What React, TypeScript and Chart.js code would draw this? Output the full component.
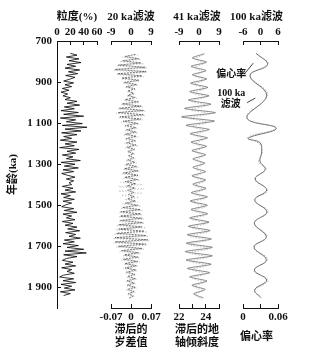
import React, { useEffect, useRef } from "react";
import { Chart, registerables } from "chart.js";
Chart.register(...registerables);

const W = 316;
const H = 356;
const SERIF = "'Liberation Serif', 'Noto Sans CJK SC', serif";
const INK = "#111";

// ---------- shared age axis ----------
const ageMin = 700;
const ageMax = 2000;
const yTicks = [700, 900, 1100, 1300, 1500, 1700, 1900];
const yTickLabels = ["700", "900", "1 100", "1 300", "1 500", "1 700", "1 900"];

// ---------- panel 1: grain size (%) ----------
const grainTicks = [0, 20, 40, 60];
const grainTickLabels = ["0", "20", "40", "60"];
const grainStart = 760;
const grainStep = 9;
const grainValues = [
  20, 30, 14, 33, 18, 36, 15, 28, 12, 34, 17, 31, 13, 27, 19,
  10, 25, 12, 22,
  8, 18, 6, 16, 9, 20,
  12, 30, 15, 34, 11, 26,
  6, 32, 10, 40, 5, 28, 14, 38, 8, 45,
  12, 36, 7, 30, 10,
  22, 5, 30, 12, 26, 4, 33, 15, 28, 8, 24, 14, 35, 6, 27, 11, 32, 9, 25, 7,
  16, 27, 14, 25, 18, 22,
  8, 24, 12, 28, 6, 20, 10, 26, 9, 22, 13,
  7, 25, 11, 30, 9, 22, 14, 27, 8, 24,
  12, 30, 16, 34, 13, 28, 18, 35, 11, 26,
  9, 32, 15, 40, 12, 44, 10, 30, 14,
  8, 24, 12, 28, 7, 22, 15, 26, 10,
  4, 25, 9, 28, 6, 22, 11, 27, 5, 20, 10,
];

// ---------- panel 2: 20 ka filter / lagged precession ----------
const f20Ticks = [-9, 0, 9];
const f20TickLabels = ["-9", "0", "9"];
const precTicks = [-0.07, 0, 0.07];
const precTickLabels = ["-0.07", "0", "0.07"];
const f20Start = 765;
const f20Step = 10.5;
const f20Values = [
  2.0, -2.8, 3.4, -3.8, 4.5,
  -5.8, 6.5, -7.2, 6.8, -6.0, 5.0,
  -4.2, 3.6, -3.0, 2.5, -2.2,
  1.8, -1.5, 1.2, -1.4, 1.9, -2.6, 3.3,
  -4.0, 4.6, -5.2, 5.6, -5.8, 5.5, -5.0, 4.4, -3.6, 3.0, -2.6,
  2.3, -2.0, 2.2, -2.5, 2.4, -2.1, 1.9, -2.0, 2.2, -1.9, 1.6,
  -1.4, 1.2, -1.0, 1.3, -1.5, 1.8, -2.2, 2.6,
  -3.0, 3.2, -3.4, 3.1, -2.8, 3.0, -2.6, 2.2, -1.9, 1.7,
  -1.5, 1.3, -1.2, 1.4, -1.6, 2.0, -2.6, 3.2,
  -3.8, 4.2, -4.6, 4.4, -4.8, 5.0, -4.7, 5.2, -5.5,
  5.0, -5.5, 6.0, -6.4, 6.8, -7.2, 7.5, -7.2, 6.6, -5.8, 5.0, -4.2,
  3.4, -3.0, 3.2, -3.5, 3.0, -2.7, 2.4, -2.6, 2.3, -2.0,
  1.8, -1.6, 2.0, -1.8, 1.5, -1.7, 1.9, -1.6, 1.4, -1.2, 1.0, -0.8,
];
const precStart = 769;
const precStep = 10.5;
const precValues = [
  0.025, -0.03, 0.035, -0.04, 0.045,
  -0.05, 0.055, -0.06, 0.055, -0.05, 0.045,
  -0.035, 0.03, -0.028, 0.025, -0.02,
  0.018, -0.015, 0.014, -0.016, 0.02, -0.025, 0.03,
  -0.035, 0.04, -0.045, 0.05, -0.052, 0.05, -0.045, 0.04, -0.035, 0.03, -0.025,
  0.022, -0.02, 0.025, -0.028, 0.026, -0.022, 0.02, -0.024, 0.026, -0.02, 0.016,
  -0.014, 0.012, -0.012, 0.015, -0.018, 0.02, -0.024, 0.028,
  -0.028, 0.03, -0.032, 0.03, -0.028, 0.032, -0.036, 0.04, -0.044, 0.046,
  -0.044, 0.04, -0.034, 0.028, -0.022, 0.025, -0.03, 0.035,
  -0.038, 0.04, -0.042, 0.04, -0.044, 0.046, -0.043, 0.048, -0.05,
  0.052, -0.055, 0.058, -0.06, 0.062, -0.064, 0.065, -0.062, 0.058, -0.052, 0.045, -0.04,
  0.035, -0.03, 0.032, -0.034, 0.03, -0.026, 0.024, -0.026, 0.022, -0.02,
  0.018, -0.016, 0.02, -0.018, 0.016, -0.018, 0.02, -0.017, 0.015, -0.013, 0.012, -0.01,
];

// ---------- panel 3: 41 ka filter / lagged obliquity ----------
const f41Ticks = [-9, 0, 9];
const f41TickLabels = ["-9", "0", "9"];
const oblTicks = [22, 23, 24, 25];
const oblTickLabels = ["22", "", "24", ""];
const f41Start = 762;
const f41Step = 20.5;
const f41Values = [
  2.5, -3.0, 3.4, -3.6, 3.2, -3.0, 3.5, -3.8, 4.0, -4.2, 4.5, -4.8, 5.4,
  -6.5, 7.4, -7.8, 7.0, -5.8,
  4.6, -4.0, 3.8, -3.6, 3.4, -3.2, 3.0,
  -2.8, 2.6, -2.8, 3.0, -3.2, 3.0, -2.8, 3.2,
  -3.5, 3.8, -4.0, 3.8, -3.6, 3.9, -4.2, 4.5, -4.8,
  5.0, -5.3, 5.6, -5.8, 6.0, -6.2, 6.0, -5.8, 5.5, -5.2, 4.8, -4.2,
  3.6, -3.2, 2.8, -2.4, 2.0,
];
const oblStart = 768;
const oblStep = 20.5;
const oblValues = [
  23.8, 23.2, 23.9, 23.1, 23.8, 23.2, 23.9, 23.1, 24.0, 23.0, 24.0, 22.9, 24.1,
  22.8, 24.3, 22.7, 24.2, 22.9,
  24.0, 23.1, 23.9, 23.2, 23.8, 23.2, 23.8,
  23.3, 23.8, 23.2, 23.8, 23.1, 23.9, 23.2, 23.9,
  23.1, 24.0, 23.0, 24.0, 23.1, 24.0, 22.9, 24.1, 22.9,
  24.2, 22.8, 24.2, 22.7, 24.3, 22.7, 24.2, 22.8, 24.1, 22.9, 24.0, 23.0,
  23.9, 23.1, 23.8, 23.2, 23.7,
];

// ---------- panel 4: 100 ka filter / eccentricity ----------
const f100Ticks = [-6, 0, 6];
const f100TickLabels = ["-6", "0", "6"];
const eccTicks = [0, 0.03, 0.06];
const eccTickLabels = ["0", "", "0.06"];
const f100Ages = [760, 815, 868, 965, 1075, 1125, 1174, 1195, 1240, 1285, 1325, 1372, 1425, 1474, 1532, 1586, 1654, 1703, 1766, 1815, 1864, 1912, 1950];
const f100Values = [-1.5, 2.4, -3.6, 2.1, -4.6, 5.4, -4.2, -0.2, 0.4, -0.2, 1.6, -1.8, 2.1, -2.0, 2.2, -2.1, 2.0, -2.2, 2.0, -2.1, 2.1, -2.0, 0.2];
const eccAges = [760, 812, 866, 962, 1072, 1124, 1170, 1200, 1245, 1290, 1322, 1372, 1428, 1476, 1530, 1588, 1650, 1705, 1762, 1818, 1866, 1915, 1950];
const eccValues = [0.022, 0.043, 0.012, 0.042, 0.006, 0.056, 0.008, 0.028, 0.033, 0.027, 0.04, 0.02, 0.042, 0.02, 0.043, 0.019, 0.041, 0.018, 0.042, 0.019, 0.043, 0.02, 0.03];

// panel titles
const panelTopTitles = ["粒度(%)", "20 ka滤波", "41 ka滤波", "100 ka滤波"];
const panelBottomTitles = [[], ["滞后的", "岁差值"], ["滞后的地", "轴倾斜度"], ["偏心率"]];

// annotations in panel 4 (filter units, age)
const noteTexts = [
  { text: "偏心率", x: -10, age: 865 },
  { text: "100 ka", x: -10, age: 955 },
  { text: "滤波", x: -10.2, age: 1008 },
];
const notePointers = [
  { x1: -5.2, a1: 855, x2: -2.5, a2: 808 },
  { x1: -4.6, a1: 1000, x2: -1.8, a2: 978 },
];

// ---------- helpers ----------
const seq = (start: number, step: number, vals: number[]) =>
  vals.map((v, i) => ({ x: v, y: start + i * step }));
const paired = (ages: number[], vals: number[]) => vals.map((v, i) => ({ x: v, y: ages[i] }));

const tickFont = { family: SERIF, size: 11, weight: "bold" as const };
const titleFont = { family: SERIF, size: 11, weight: "bold" as const, lineHeight: 1.2 };

function hAxis(position: "top" | "bottom", min: number, max: number, ticks: number[], labels: string[]) {
  return {
    type: "linear",
    axis: "x",
    position,
    min,
    max,
    afterBuildTicks: (s: any) => {
      s.ticks = ticks.map((v) => ({ value: v }));
    },
    afterFit: (s: any) => {
      s.height = position === "top" ? 41 : 48;
    },
    ticks: {
      font: tickFont,
      color: INK,
      padding: position === "top" ? 6 : 7,
      autoSkip: false,
      maxRotation: 0,
      callback: (_v: any, i: number) => labels[i],
    },
    grid: { display: true, drawOnChartArea: false, drawTicks: true, tickLength: -4, color: INK, lineWidth: 1 },
    border: { display: true, color: INK, width: 1 },
    title: { display: false },
  };
}

function yAxis(show: boolean) {
  return {
    type: "linear",
    axis: "y",
    position: "left",
    reverse: true,
    min: ageMin,
    max: ageMax,
    display: show,
    afterBuildTicks: (s: any) => {
      s.ticks = yTicks.map((v) => ({ value: v }));
    },
    afterFit: (s: any) => {
      s.width = show ? 57 : 0;
    },
    ticks: {
      font: tickFont,
      color: INK,
      padding: 9,
      autoSkip: false,
      callback: (_v: any, i: number) => yTickLabels[i],
    },
    grid: { display: true, drawOnChartArea: false, drawTicks: true, tickLength: -4, color: INK, lineWidth: 1 },
    border: { display: true, color: INK, width: 1 },
    title: { display: true, text: "年龄(ka)", font: titleFont, color: INK, padding: { top: 7, bottom: 0 } },
  };
}

const baseOptions = {
  responsive: false,
  animation: false,
  devicePixelRatio: 1,
  indexAxis: "y",
  events: [],
  plugins: { legend: { display: false }, tooltip: { enabled: false } },
  elements: { point: { radius: 0 } },
};

const titlesPlugin = (idx: number, dx: number) => ({
  id: "panelTitles" + idx,
  afterDraw(chart: any) {
    const { ctx, chartArea } = chart;
    const cx = (chartArea.left + chartArea.right) / 2 + dx;
    ctx.save();
    ctx.fillStyle = INK;
    ctx.font = `bold 11px ${SERIF}`;
    ctx.textAlign = "center";
    ctx.textBaseline = "middle";
    ctx.fillText(panelTopTitles[idx], cx, 17);
    const lines = panelBottomTitles[idx];
    if (lines.length === 1) ctx.fillText(lines[0], cx, 337);
    else lines.forEach((t, i) => ctx.fillText(t, cx, 330 + i * 13));
    ctx.restore();
  },
});

const notesPlugin = {
  id: "notes",
  afterDraw(chart: any) {
    const ctx = chart.ctx;
    const xs = chart.scales.x;
    const ys = chart.scales.y;
    ctx.save();
    ctx.fillStyle = INK;
    ctx.strokeStyle = INK;
    ctx.lineWidth = 0.8;
    ctx.font = `bold 10px ${SERIF}`;
    ctx.textAlign = "center";
    ctx.textBaseline = "middle";
    for (const n of noteTexts) ctx.fillText(n.text, xs.getPixelForValue(n.x), ys.getPixelForValue(n.age));
    for (const p of notePointers) {
      ctx.beginPath();
      ctx.moveTo(xs.getPixelForValue(p.x1), ys.getPixelForValue(p.a1));
      ctx.lineTo(xs.getPixelForValue(p.x2), ys.getPixelForValue(p.a2));
      ctx.stroke();
    }
    ctx.restore();
  },
};

const configs: any[] = [
  {
    type: "line",
    data: {
      datasets: [
        { data: seq(grainStart, grainStep, grainValues), borderColor: "#000", borderWidth: 0.8, tension: 0, xAxisID: "x", yAxisID: "y" },
      ],
    },
    options: {
      ...baseOptions,
      layout: { padding: { left: 0, right: W - 97, top: 0, bottom: 48 } },
      scales: {
        x: hAxis("top", 0, 60, grainTicks, grainTickLabels),
        y: yAxis(true),
      },
    },
    plugins: [titlesPlugin(0, 0)],
  },
  {
    type: "line",
    data: {
      datasets: [
        { data: seq(precStart, precStep, precValues), borderColor: "#b0b0b0", borderWidth: 0.8, borderDash: [1, 2], tension: 0, xAxisID: "x2", yAxisID: "y" },
        { data: seq(f20Start, f20Step, f20Values), borderColor: "#333", borderWidth: 0.7, borderDash: [2, 1], tension: 0, xAxisID: "x", yAxisID: "y" },
      ],
    },
    options: {
      ...baseOptions,
      layout: { padding: { left: 111, right: W - 151, top: 0, bottom: 0 } },
      scales: {
        x: hAxis("top", -9, 9, f20Ticks, f20TickLabels),
        x2: hAxis("bottom", -0.07, 0.07, precTicks, precTickLabels),
        y: yAxis(false),
      },
    },
    plugins: [titlesPlugin(1, 0)],
  },
  {
    type: "line",
    data: {
      datasets: [
        { data: seq(oblStart, oblStep, oblValues), borderColor: "#b0b0b0", borderWidth: 0.8, borderDash: [1.5, 1.5], tension: 0.2, xAxisID: "x2", yAxisID: "y" },
        { data: seq(f41Start, f41Step, f41Values), borderColor: "#555", borderWidth: 0.7, tension: 0.2, xAxisID: "x", yAxisID: "y" },
      ],
    },
    options: {
      ...baseOptions,
      layout: { padding: { left: 179, right: W - 219, top: 0, bottom: 0 } },
      scales: {
        x: hAxis("top", -9, 9, f41Ticks, f41TickLabels),
        x2: hAxis("bottom", 22, 25, oblTicks, oblTickLabels),
        y: yAxis(false),
      },
    },
    plugins: [titlesPlugin(2, -2)],
  },
  {
    type: "line",
    data: {
      datasets: [
        { data: paired(eccAges, eccValues), borderColor: "#a0a0a0", borderWidth: 0.8, borderDash: [1.5, 1.5], tension: 0.4, xAxisID: "x2", yAxisID: "y" },
        { data: paired(f100Ages, f100Values), borderColor: "#444", borderWidth: 0.8, tension: 0.4, xAxisID: "x", yAxisID: "y" },
      ],
    },
    options: {
      ...baseOptions,
      layout: { padding: { left: 243, right: W - 278, top: 0, bottom: 0 } },
      scales: {
        x: hAxis("top", -6, 6, f100Ticks, f100TickLabels),
        x2: hAxis("bottom", 0, 0.06, eccTicks, eccTickLabels),
        y: yAxis(false),
      },
    },
    plugins: [titlesPlugin(3, -4), notesPlugin],
  },
];

function Panel({ config }: { config: any }) {
  const ref = useRef<HTMLCanvasElement>(null);
  useEffect(() => {
    const chart = new Chart(ref.current as HTMLCanvasElement, config);
    return () => chart.destroy();
  }, [config]);
  return (
    <canvas
      ref={ref}
      width={W}
      height={H}
      style={{ position: "absolute", left: 0, top: 0, width: W, height: H }}
    />
  );
}

export default function App() {
  return (
    <div style={{ position: "fixed", left: 0, top: 0, width: W, height: H, background: "#fff", overflow: "hidden" }}>
      {configs.map((c, i) => (
        <Panel key={i} config={c} />
      ))}
    </div>
  );
}
